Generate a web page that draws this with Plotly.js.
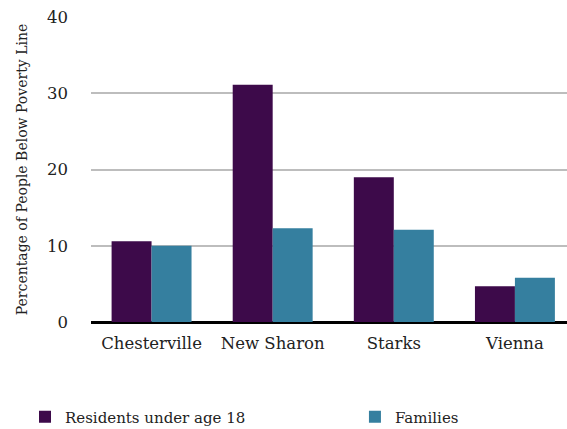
<!DOCTYPE html>
<html>
<head>
<meta charset="utf-8">
<script src="https://cdn.plot.ly/plotly-3.0.1.min.js"></script>
<style>html,body{margin:0;padding:0;background:#fff;}#chart{width:567px;height:429px;}</style>
</head>
<body>
<div id="chart"></div>
<script>
const towns = ["Chesterville", "New Sharon", "Starks", "Vienna"];
const residentsUnder18 = [10.6, 31.1, 19.0, 4.7];
const families = [10.0, 12.3, 12.1, 5.8];
const yTicks = [0, 10, 20, 30, 40];

const FAMILY = "DejaVu Serif";
const font = {family: FAMILY, size: 16.5, color: "#222"};
const legendFont = {family: FAMILY, size: 15, color: "#222"};

const data = [
  {type: "bar", name: "Residents under age 18", x: towns, y: residentsUnder18,
   marker: {color: "#3d0a4a"}, legend: "legend"},
  {type: "bar", name: "Families", x: towns, y: families,
   marker: {color: "#357f9f"}, legend: "legend2"}
];

const layout = {
  width: 567, height: 429,
  margin: {l: 91, r: 0, t: 17, b: 107},
  paper_bgcolor: "#fff", plot_bgcolor: "#fff",
  font: font,
  barmode: "group", bargap: 0.34, bargroupgap: 0,
  showlegend: true,
  legend: {orientation: "h", xref: "container", yref: "container", x: 0.0441, xanchor: "left",
           y: 0.028, yanchor: "middle", font: legendFont},
  legend2: {orientation: "h", xref: "container", yref: "container", x: 0.626, xanchor: "left",
            y: 0.028, yanchor: "middle", font: legendFont},
  xaxis: {range: [-0.5, 3.43], showgrid: false, zeroline: false, showline: false,
          ticks: "", ticklabelstandoff: 9, tickfont: font, fixedrange: true},
  yaxis: {range: [0, 40], tickvals: yTicks, ticktext: yTicks.map(String),
          showgrid: true, gridcolor: "#bdbdbd", gridwidth: 2,
          zeroline: true, zerolinecolor: "#000", zerolinewidth: 3,
          showline: false, ticks: "", ticklabelstandoff: 22, tickfont: font,
          title: {text: "Percentage of People Below Poverty Line", standoff: 16,
                  font: {family: FAMILY, size: 14, color: "#222"}}}
};

Plotly.newPlot("chart", data, layout, {displayModeBar: false, staticPlot: true});
</script>
</body>
</html>
